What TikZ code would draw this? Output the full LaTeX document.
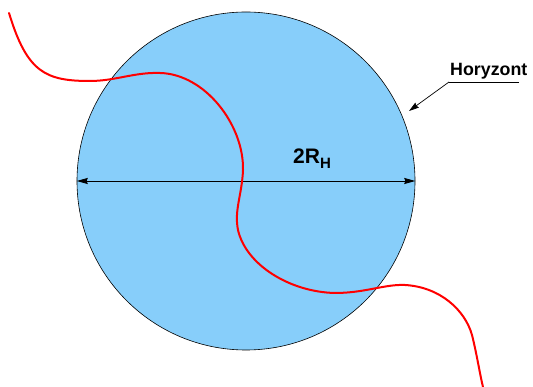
\documentclass[tikz,border=0pt]{standalone}
\usepackage{fontspec}
\setmainfont{Liberation Sans}
\usetikzlibrary{arrows.meta}
\definecolor{horblue}{RGB}{135,206,250}
\tikzset{
  horizon/.style={circle, draw=black, line width=0.6pt, fill=horblue, minimum size=338pt, inner sep=0pt},
  dimline/.style={line width=0.9pt, black, {Stealth[length=11pt,width=6pt,inset=1pt]}-{Stealth[length=11pt,width=6pt,inset=1pt]}},
  pointer/.style={line width=0.7pt, black, -{Stealth[length=10pt,width=6pt,inset=1pt]}},
  worldline/.style={line width=2pt, red, line cap=round},
  lbl/.style={inner sep=0pt, font=\bfseries}
}
\begin{document}
\begin{tikzpicture}[x=1pt,y=-1pt]
\useasboundingbox (0,0) rectangle (533,387);
\node[horizon] (hor) at (246,181) {};
\draw[dimline] (hor.west) -- (hor.east);
\coordinate (ws) at (9,13);
\coordinate (we) at (483,387);
\draw[worldline] (ws) .. controls (27,72) and (45,81) .. (90,81)
  .. controls (115,81) and (135,72) .. (160,73)
  .. controls (205,74) and (244,125) .. (243,170)
  .. controls (242,195) and (234,210) .. (238,230)
  .. controls (246,265) and (290,292) .. (335,293)
  .. controls (365,293) and (385,284) .. (405,285)
  .. controls (440,287) and (465,310) .. (472,335)
  .. controls (477,355) and (480,375) .. (we);
\node[lbl, anchor=base west] (dia) at (293,164) {{\fontsize{21}{23}\selectfont 2R}\raisebox{-4.6pt}{\fontsize{15}{17}\selectfont H}};
\node[lbl, anchor=base west] (hlab) at (450,76) {\fontsize{17.8}{20}\selectfont Horyzont};
\coordinate (ul) at (449,82);
\coordinate (ur) at (519,82);
\draw[line width=0.7pt] (ur) -- (ul);
\coordinate (tip) at (409,111);
\draw[pointer] (ul) -- (tip);
\end{tikzpicture}
\end{document}
